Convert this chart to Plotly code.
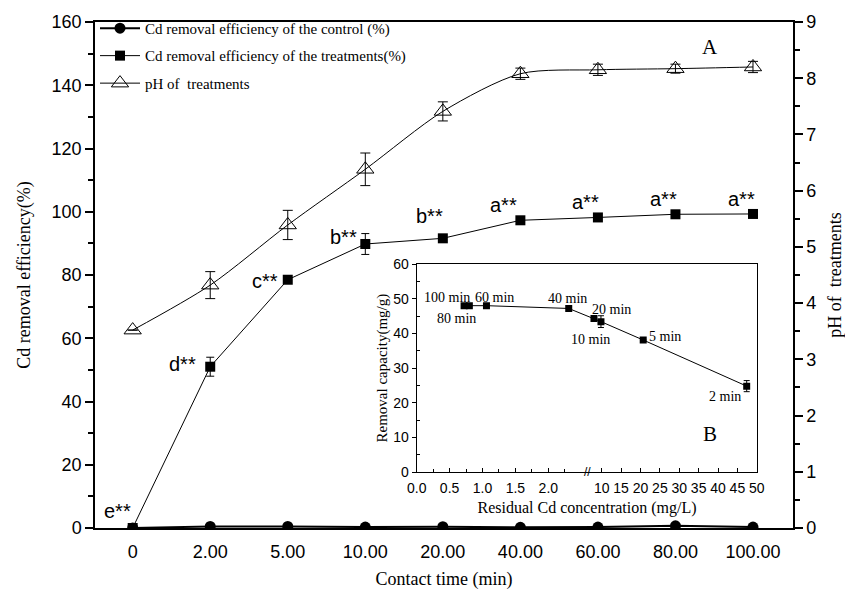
import plotly.graph_objects as go

# ---------------- data ----------------
categories = ["0", "2.00", "5.00", "10.00", "20.00", "40.00", "60.00", "80.00", "100.00"]
control = [0.0, 0.5, 0.5, 0.3, 0.4, 0.2, 0.3, 0.7, 0.3]
treatment = [0.0, 51.0, 78.5, 89.8, 91.6, 97.3, 98.2, 99.2, 99.3]
treatment_err = [0, 3.0, 0, 3.3, 0, 0, 0, 0, 0]
ph = [3.52, 4.32, 5.39, 6.38, 7.41, 8.08, 8.15, 8.17, 8.20]
ph_err = [0, 0.24, 0.26, 0.29, 0.17, 0.10, 0.10, 0.08, 0.10]
sig_letters = ["e**", "d**", "c**", "b**", "b**", "a**", "a**", "a**", "a**"]

# inset (B)
inset_times = ["100 min", "80 min", "60 min", "40 min", "20 min", "10 min", "5 min", "2 min"]
residual = [0.72, 0.80, 1.06, 2.31, 8.0, 9.8, 20.7, 47.4]
capacity = [48.0, 48.0, 48.0, 47.2, 44.3, 43.4, 38.1, 24.8]
capacity_err = [0, 0, 0, 0, 0, 1.7, 0, 1.6]
inset_low_ticks = [0.0, 0.5, 1.0, 1.5, 2.0]
inset_high_ticks = [10, 15, 20, 25, 30, 35, 40, 45, 50]

# ---------------- broken-axis scale for inset ----------------
LOW_MAX = 2.6
HIGH_POS10 = 2.8116
HIGH_K = 0.0589


def brk(v):
    if v <= LOW_MAX:
        return v
    return HIGH_POS10 + (v - 10) * HIGH_K


SERIF = "Liberation Serif"
SANS = "Liberation Sans"

fig = go.Figure()

fig.add_trace(go.Scatter(
    x=categories, y=control, name="Cd removal efficiency of the control (%)",
    mode="lines+markers", legendgroup="g1",
    line=dict(color="black", width=2),
    marker=dict(symbol="circle", size=11, color="black"),
))
fig.add_trace(go.Scatter(
    x=categories, y=treatment, name="Cd removal efficiency of the treatments(%)",
    mode="lines+markers", legendgroup="g2",
    line=dict(color="black", width=1),
    marker=dict(symbol="square", size=10, color="black"),
    error_y=dict(type="data", array=treatment_err, color="black", thickness=1, width=4),
))
fig.add_trace(go.Scatter(
    x=categories, y=ph, name="pH of  treatments", yaxis="y2",
    mode="lines+markers", legendgroup="g3",
    line=dict(color="black", width=1, shape="spline", smoothing=0.8),
    marker=dict(symbol="triangle-up-open", size=15, color="black", line=dict(width=1)),
    error_y=dict(type="data", array=ph_err, color="black", thickness=1, width=5),
))

# inset trace
fig.add_trace(go.Scatter(
    x=[brk(v) for v in residual], y=capacity, xaxis="x3", yaxis="y3",
    mode="lines+markers", showlegend=False,
    line=dict(color="black", width=1),
    marker=dict(symbol="square", size=7, color="black"),
    error_y=dict(type="data", array=capacity_err, color="black", thickness=1, width=3),
))

# significance letters (category index positions)
letter_shifts = [(-15, 17), (-28, 3), (-23, -1), (-22, 7), (-13, 22), (-17, 15), (-12, 15), (-12, 15), (-11, 15)]
for i, (val, lab, (dx, dy)) in enumerate(zip(treatment, sig_letters, letter_shifts)):
    fig.add_annotation(x=i, y=val, xref="x", yref="y", text=lab, showarrow=False,
                       xanchor="center", yanchor="middle",
                       xshift=dx, yshift=dy, font=dict(family=SANS, size=20, color="black"))

# inset time labels
time_shifts = [(-17, 8), (-13, -13), (8, 8), (-1, 10), (18, 9), (-10, -18), (22, 4), (-22, -10)]
for r, c, lab, (dx, dy) in zip(residual, capacity, inset_times, time_shifts):
    fig.add_annotation(x=brk(r), y=c, xref="x3", yref="y3", text=lab, showarrow=False,
                       xanchor="center", yanchor="middle",
                       xshift=dx, yshift=dy, font=dict(family=SERIF, size=14, color="black"))

# break mark on inset x axis
fig.add_annotation(x=2.588, y=0, xref="x3", yref="y3", text="//", showarrow=False,
                   xanchor="center", yanchor="middle",
                   font=dict(family=SANS, size=12, color="black"))

# panel letters
fig.add_annotation(x=0.881, y=0.951, xref="paper", yref="paper", text="A", showarrow=False,
                   xanchor="center", yanchor="middle",
                   font=dict(family=SERIF, size=21, color="black"))
fig.add_annotation(x=0.881, y=0.186, xref="paper", yref="paper", text="B", showarrow=False,
                   xanchor="center", yanchor="middle",
                   font=dict(family=SERIF, size=21, color="black"))

axis_common = dict(showgrid=False, zeroline=False, linecolor="black", tickcolor="black",
                   automargin=False)

fig.update_layout(
    width=845, height=592,
    margin=dict(l=95, r=52, t=18, b=64),
    paper_bgcolor="white", plot_bgcolor="white",
    showlegend=True,
    legend=dict(x=0.0, y=1.02, xanchor="left", yanchor="top", bgcolor="rgba(0,0,0,0)",
                font=dict(family=SERIF, size=15, color="black"), tracegroupgap=5,
                itemwidth=40),
    xaxis=dict(type="category", range=[-0.486, 8.516], showline=True, linewidth=1.5, mirror=True,
               ticks="outside", ticklen=7, tickcolor="rgba(0,0,0,0)",
               tickfont=dict(family=SANS, size=18, color="black"),
               title=dict(text="Contact time (min)", font=dict(family=SERIF, size=18, color="black"),
                          standoff=11),
               showgrid=False, zeroline=False, linecolor="black", automargin=False),
    yaxis=dict(range=[0, 160], tickvals=[0, 20, 40, 60, 80, 100, 120, 140, 160],
               showline=True, linewidth=1.5, ticks="outside", ticklen=8, tickwidth=1.5,
               minor=dict(tickvals=[10, 30, 50, 70, 90, 110, 130, 150], ticks="outside", ticklen=5,
                          tickcolor="black", tickwidth=1.5),
               tickfont=dict(family=SANS, size=18, color="black"),
               title=dict(text="Cd removal efficiency(%)", font=dict(family=SERIF, size=18, color="black"),
                          standoff=16),
               **axis_common),
    yaxis2=dict(range=[0, 9], overlaying="y", side="right", anchor="x",
                tickvals=list(range(10)), showline=True, linewidth=1.5,
                ticks="outside", ticklen=8, tickwidth=1.5,
                minor=dict(tickvals=[0.5 + i for i in range(9)], ticks="outside", ticklen=5,
                           tickcolor="black", tickwidth=1.5),
                tickfont=dict(family=SANS, size=18, color="black"),
                title=dict(text="pH of  treatments", font=dict(family=SERIF, size=18, color="black"),
                           standoff=13),
                **axis_common),
    xaxis3=dict(domain=[0.4609, 0.9489], anchor="y3", range=[0, 5.176],
                tickmode="array",
                tickvals=inset_low_ticks + [brk(v) for v in inset_high_ticks],
                ticktext=[f"{v:.1f}" for v in inset_low_ticks] + [str(v) for v in inset_high_ticks],
                showline=True, linewidth=1, mirror=True, ticks="inside", ticklen=4,
                ticklabelstandoff=3,
                minor=dict(tickvals=[0.25, 0.75, 1.25, 1.75, 2.25], ticks="inside", ticklen=3,
                           tickcolor="black"),
                tickfont=dict(family=SANS, size=14, color="black"),
                title=dict(text="Residual Cd concentration (mg/L)",
                           font=dict(family=SERIF, size=16, color="black"), standoff=6),
                **axis_common),
    yaxis3=dict(domain=[0.1104, 0.5216], anchor="x3", range=[0, 60],
                tickvals=[0, 10, 20, 30, 40, 50, 60],
                showline=True, linewidth=1, mirror=True, ticks="outside", ticklen=4,
                minor=dict(tickvals=[5, 15, 25, 35, 45, 55], ticks="inside", ticklen=3,
                           tickcolor="black"),
                tickfont=dict(family=SANS, size=14, color="black"),
                title=dict(text="Removal capacity(mg/g)",
                           font=dict(family=SERIF, size=15, color="black"), standoff=2),
                **axis_common),
)

fig.write_html("out.html")
